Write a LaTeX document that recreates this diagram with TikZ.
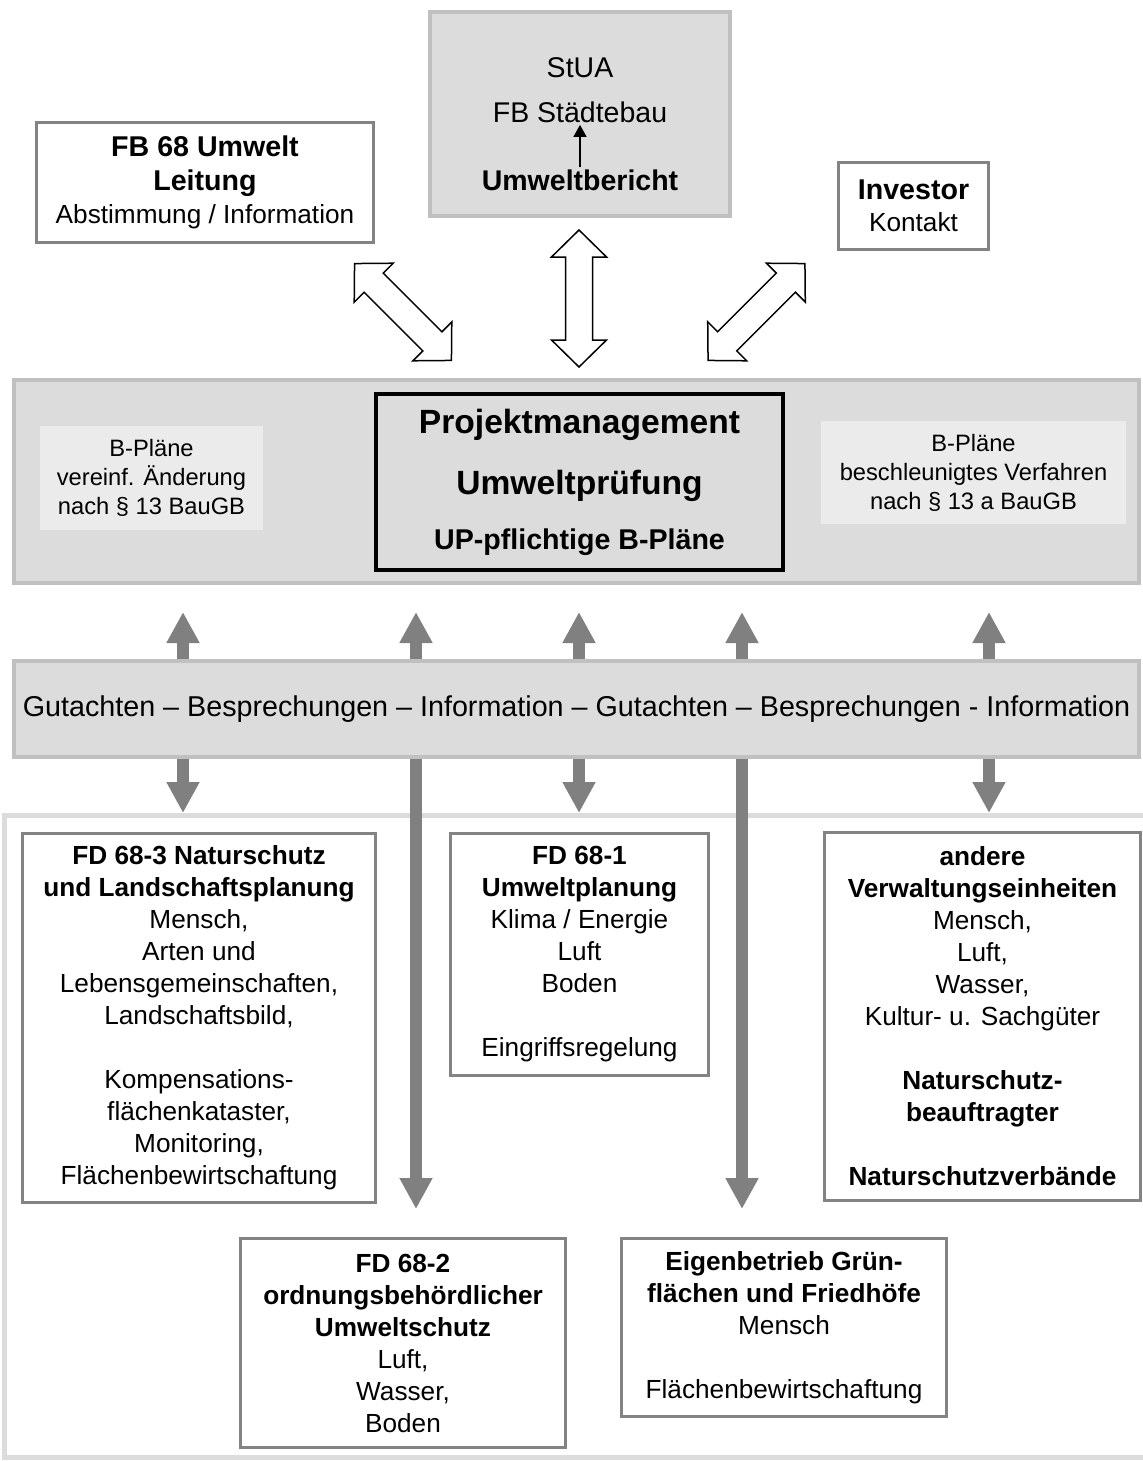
\documentclass[tikz,border=0pt]{standalone}
\usepackage{fontspec}
\setmainfont{Liberation Sans}
\usetikzlibrary{arrows.meta}

\definecolor{bandfill}{HTML}{DCDCDC}
\definecolor{bandline}{HTML}{C0C0C0}
\definecolor{lightfill}{HTML}{EBEBEB}
\definecolor{boxline}{HTML}{838383}
\definecolor{arrgray}{HTML}{808080}

\newcommand{\bighead}[1]{{\bfseries\fontsize{14.3}{16.75}\selectfont #1}}
\newcommand{\HollowArrow}[3]{
  \begin{scope}[shift={(#1,#2)}, rotate=#3]
    \draw[hollowarr] (-68.5,0) -- (-41.5,27.5) -- (-41.5,13.5) -- (41.5,13.5)
      -- (41.5,27.5) -- (68.5,0) -- (41.5,-27.5) -- (41.5,-13.5)
      -- (-41.5,-13.5) -- (-41.5,-27.5) -- cycle;
  \end{scope}
}

\tikzset{
  unitbox/.style={draw=boxline, line width=1.5pt, fill=white, align=center,
    inner sep=0pt, font=\fontsize{13.1}{16}\selectfont},
  bandbox/.style={draw=bandline, line width=2pt, fill=bandfill, inner sep=0pt},
  lightbox/.style={fill=lightfill, align=center, inner sep=0pt,
    font=\fontsize{11.85}{14.5}\selectfont},
  pmbox/.style={draw=black, line width=2pt, align=center, inner sep=0pt,
    font=\bfseries\fontsize{16.8}{30.5}\selectfont},
  stuatext/.style={inner sep=1pt, font=\fontsize{14.25}{17}\selectfont},
  hollowarr/.style={draw=black, line width=0.75pt, fill=white, line join=miter},
  grayarr/.style={draw=arrgray, line width=6pt,
    {Triangle[width=15.5pt,length=15.5pt]}-{Triangle[width=15.5pt,length=15.5pt]}},
}

\begin{document}
\begin{tikzpicture}[x=0.5pt, y=-0.5pt]
  \useasboundingbox (0,0) rectangle (1143,1461);

  % frame round the lower part
  \draw[bandfill, line width=2.5pt] (1143,815) -| (4,1457) -- (1143,1457);

  % top row
  \node[unitbox, minimum width=168.5pt, minimum height=60pt,
    font=\fontsize{13.1}{16.75}\selectfont] (fbleit) at (205,182.5)
    {\bighead{FB 68 Umwelt}\\\bighead{Leitung}\\Abstimmung / Information};
  \node[bandbox, minimum width=150pt, minimum height=102pt] (stua) at (580,114) {};
  \node[stuatext] (stuaname) at (580,68) {StUA};
  \node[stuatext] (fbst) at (580,112) {FB Städtebau};
  \node[stuatext] (ubericht) at (580,180) {\bfseries Umweltbericht};
  \draw[line width=0.6pt, -{Triangle[width=6.5pt,length=6pt]}] (ubericht.north) -- (fbst.south);
  \node[unitbox, minimum width=75pt, minimum height=43.5pt] (investor) at (913.5,206)
    {\bighead{Investor}\\Kontakt};

  \HollowArrow{403}{312}{-45}
  \HollowArrow{579}{298.5}{90}
  \HollowArrow{756.5}{312}{45}

  % Projektmanagement
  \node[bandbox, minimum width=562.5pt, minimum height=101.5pt] (band1) at (576.5,481.5) {};
  \node[lightbox, minimum width=111.5pt, minimum height=52pt] (bpleft) at (151.5,478)
    {B-Pläne\\vereinf. Änderung\\nach § 13 BauGB};
  \node[lightbox, minimum width=152.5pt, minimum height=51.5pt] (bpright) at (973.5,472.5)
    {B-Pläne\\beschleunigtes Verfahren\\nach § 13 a BauGB};
  \node[pmbox, minimum width=203.5pt, minimum height=88pt] (pm) at (579.5,482)
    {Projektmanagement\\Umweltprüfung\\[-3pt]{\fontsize{14.3}{17}\selectfont UP-pflichtige B-Pläne}};

  % gray arrows
  \foreach \x/\y in {183/813, 416/1209, 579/813, 742/1209, 989/813} {
    \coordinate (up\x) at (\x,612);
    \coordinate (dn\x) at (\x,\y);
    \draw[grayarr] (up\x) -- (dn\x);
  }

  \node[bandbox, minimum width=562.5pt, minimum height=48pt,
    font=\fontsize{14.35}{17}\selectfont] (band2) at (576.5,709)
    {Gutachten – Besprechungen – Information – Gutachten – Besprechungen - Information};

  % lower boxes
  \node[unitbox, minimum width=176.5pt, minimum height=184.5pt] (fd3) at (199,1018)
    {\textbf{FD 68-3 Naturschutz}\\\textbf{und Landschaftsplanung}\\Mensch,\\Arten und\\
     Lebensgemeinschaften,\\Landschaftsbild,\\[16pt]Kompensations-\\flächenkataster,\\
     Monitoring,\\Flächenbewirtschaftung};
  \node[unitbox, minimum width=129pt, minimum height=121pt] (fd1) at (579.5,954.5)
    {\textbf{FD 68-1}\\\textbf{Umweltplanung}\\Klima / Energie\\Luft\\Boden\\[16pt]Eingriffsregelung};
  \node[unitbox, minimum width=158pt, minimum height=184pt] (andere) at (982.5,1016.5)
    {\textbf{andere}\\\textbf{Verwaltungseinheiten}\\Mensch,\\Luft,\\Wasser,\\
     Kultur- u. Sachgüter\\[16pt]\textbf{Naturschutz-}\\\textbf{beauftragter}\\[16pt]
     \textbf{Naturschutzverbände}};
  \node[unitbox, minimum width=162.5pt, minimum height=104.5pt] (fd2) at (403,1343)
    {\textbf{FD 68-2}\\\textbf{ordnungsbehördlicher}\\\textbf{Umweltschutz}\\Luft,\\Wasser,\\Boden};
  \node[unitbox, minimum width=162.5pt, minimum height=89pt] (eigen) at (784,1327.5)
    {\textbf{Eigenbetrieb Grün-}\\\textbf{flächen und Friedhöfe}\\Mensch\\[16pt]Flächenbewirtschaftung};
\end{tikzpicture}
\end{document}
